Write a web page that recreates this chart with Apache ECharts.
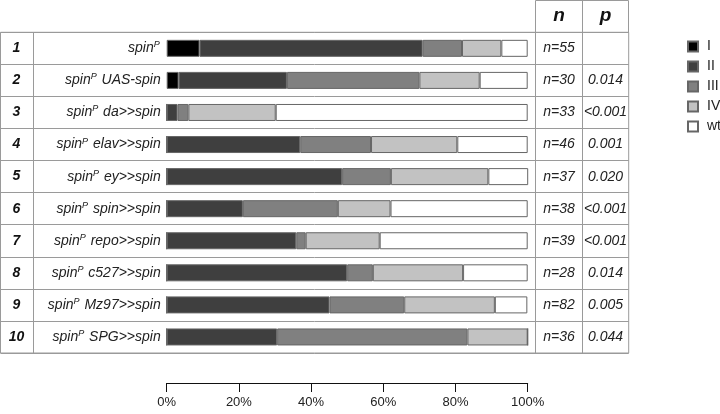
<!DOCTYPE html>
<html>
<head>
<meta charset="utf-8">
<script src="https://cdn.jsdelivr.net/npm/echarts@6/dist/echarts.min.js"></script>
<style>html,body{margin:0;padding:0;background:#fff}#c{width:720px;height:414px}</style>
</head>
<body>
<div id="c"></div>
<script>
// ---- data ----
var rowNumbers = ['1','2','3','4','5','6','7','8','9','10'];
var genotypes = ['', 'UAS-spin', 'da>>spin', 'elav>>spin', 'ey>>spin', 'spin>>spin', 'repo>>spin', 'c527>>spin', 'Mz97>>spin', 'SPG>>spin'];
var nLabels = ['n=55','n=30','n=33','n=46','n=37','n=38','n=39','n=28','n=82','n=36'];
var pLabels = ['', '0.014', '<0.001', '0.001', '0.020', '<0.001', '<0.001', '0.014', '0.005', '0.044'];
var classNames = ['I','II','III','IV','wt'];
var classI   = [9.1, 3.3, 0,    0,    0,    0,    0,    0,    0,    0];
var classII  = [61.8, 30.0, 3.0, 37.0, 48.6, 21.1, 35.9, 50.0, 45.1, 30.6];
var classIII = [10.9, 36.7, 3.0, 19.6, 13.5, 26.3, 2.6, 7.1, 20.7, 52.7];
var classIV  = [10.9, 16.7, 24.2, 23.9, 27.0, 14.6, 20.5, 25.0, 25.1, 16.7];
var classWt  = [7.3, 13.3, 69.8, 19.5, 11.4, 38.0, 41.0, 17.9, 9.0, 0];
var headers = ['n', 'p'];

var FONT = 'Liberation Sans, Arial, sans-serif';
var colors = ['#000000', '#3f3f3f', '#808080', '#c2c2c2', '#ffffff'];
var seriesData = [classI, classII, classIII, classIV, classWt];

var gridLeft = 166.7, gridRight = 527.7, gridTop = 32.3, gridBottom = 353;
var nCenter = 559, pCenter = 605.5, numCenter = 16.5;
var lineColor = '#9a9a9a';

var chart = echarts.init(document.getElementById('c'), null, {renderer: 'canvas'});

var rich = {
  a: {fontFamily: FONT, fontSize: 14, fontStyle: 'italic', color: '#222', lineHeight: 16},
  s: {fontFamily: FONT, fontSize: 9, fontStyle: 'italic', color: '#222', lineHeight: 10, verticalAlign: 'top', padding: [0, 1, 0, 0]}
};

var option = {
  animation: false,
  backgroundColor: '#fff',
  grid: [
    {left: gridLeft, top: gridTop, width: gridRight - gridLeft, height: gridBottom - gridTop, containLabel: false},
    {left: 0.5, top: gridTop, width: 628.2, height: gridBottom - gridTop, show: true, borderColor: lineColor, borderWidth: 1, z: 0}
  ],
  legend: {
    data: classNames,
    orient: 'vertical',
    left: 687, top: 39.5,
    itemWidth: 10, itemHeight: 10, itemGap: 6,
    padding: 0,
    icon: 'rect',
    textStyle: {fontFamily: FONT, fontSize: 14, color: '#222', padding: [0, 0, 0, 4]}
  },
  xAxis: [
    {
      gridIndex: 0, type: 'value', min: 0, max: 100, interval: 20, offset: 30,
      axisLine: {show: true, lineStyle: {color: '#111', width: 1}},
      axisTick: {show: true, length: 9, lineStyle: {color: '#111', width: 1}},
      axisLabel: {formatter: '{value}%', fontFamily: FONT, fontSize: 13, color: '#222', margin: 13},
      splitLine: {show: false}
    },
    {gridIndex: 1, type: 'value', min: 0, max: 1, show: false}
  ],
  yAxis: [
    {
      gridIndex: 0, type: 'category', data: genotypes, inverse: true,
      axisLine: {show: false}, axisTick: {show: false}, splitLine: {show: false},
      axisLabel: {
        interval: 0, margin: 6, align: 'right',
        formatter: function (v, i) {
          return '{a|spin}{s|P}' + (v ? '{a| ' + v + '}' : '');
        },
        rich: rich
      }
    },
    {
      gridIndex: 0, type: 'category', data: rowNumbers, inverse: true, position: 'left',
      axisLine: {show: false}, axisTick: {show: false}, splitLine: {show: false},
      axisLabel: {interval: 0, margin: gridLeft - numCenter, align: 'center',
        fontFamily: FONT, fontSize: 14, fontWeight: 'bold', fontStyle: 'italic', color: '#111'}
    },
    {
      gridIndex: 0, type: 'category', data: nLabels, inverse: true, position: 'right',
      axisLine: {show: false}, axisTick: {show: false}, splitLine: {show: false},
      axisLabel: {interval: 0, margin: nCenter - gridRight, align: 'center',
        fontFamily: FONT, fontSize: 14, fontStyle: 'italic', color: '#222'}
    },
    {
      gridIndex: 0, type: 'category', data: pLabels, inverse: true, position: 'right',
      axisLine: {show: false}, axisTick: {show: false}, splitLine: {show: false},
      axisLabel: {interval: 0, margin: pCenter - gridRight, align: 'center',
        fontFamily: FONT, fontSize: 14, fontStyle: 'italic', color: '#222'}
    },
    {
      gridIndex: 1, type: 'category', data: rowNumbers, inverse: true,
      axisLine: {show: false}, axisTick: {show: false}, axisLabel: {show: false},
      splitLine: {show: true, interval: 0, lineStyle: {color: lineColor, width: 1}}
    }
  ],
  graphic: {
    elements: [
      {type: 'line', shape: {x1: 33.5, y1: gridTop, x2: 33.5, y2: gridBottom}, style: {stroke: lineColor, lineWidth: 1}, silent: true},
      {type: 'line', shape: {x1: 535.5, y1: 0.5, x2: 535.5, y2: gridBottom}, style: {stroke: lineColor, lineWidth: 1}, silent: true},
      {type: 'line', shape: {x1: 582.5, y1: 0.5, x2: 582.5, y2: gridBottom}, style: {stroke: lineColor, lineWidth: 1}, silent: true},
      {type: 'line', shape: {x1: 628.5, y1: 0.5, x2: 628.5, y2: gridTop}, style: {stroke: lineColor, lineWidth: 1}, silent: true},
      {type: 'line', shape: {x1: 535.5, y1: 0.5, x2: 628.5, y2: 0.5}, style: {stroke: lineColor, lineWidth: 1}, silent: true},
      {type: 'text', x: nCenter, y: 16, style: {text: headers[0], font: 'italic bold 19px ' + FONT, fill: '#111', textAlign: 'center', textVerticalAlign: 'middle'}, silent: true},
      {type: 'text', x: pCenter, y: 16, style: {text: headers[1], font: 'italic bold 19px ' + FONT, fill: '#111', textAlign: 'center', textVerticalAlign: 'middle'}, silent: true}
    ]
  },
  series: classNames.map(function (name, k) {
    return {
      name: name, type: 'bar', stack: 'total',
      xAxisIndex: 0, yAxisIndex: 0,
      barWidth: 17,
      data: seriesData[k],
      itemStyle: {color: colors[k], borderColor: '#666', borderWidth: 1},
      emphasis: {disabled: true},
      z: 3
    };
  })
};
chart.setOption(option);
</script>
</body>
</html>
